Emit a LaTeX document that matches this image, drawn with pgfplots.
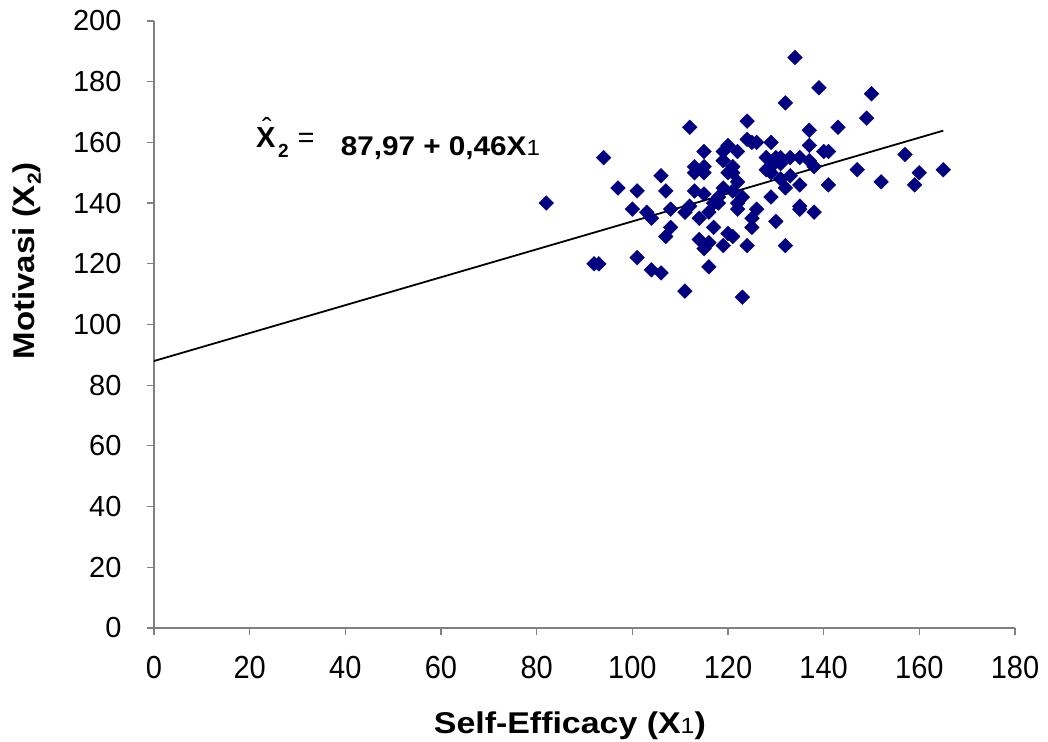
\documentclass[border=0pt]{standalone}
\usepackage{pgfplots}
\pgfplotsset{compat=1.18}
\usepackage{fontspec}
\setmainfont{Liberation Sans}
\definecolor{navy}{HTML}{000080}
\definecolor{axgray}{HTML}{808080}
\begin{document}
\begin{tikzpicture}
\useasboundingbox (0,0) rectangle (1048bp,742bp);
\begin{axis}[
  at={(154bp,114bp)}, anchor=south west,
  scale only axis, width=861bp, height=607bp,
  xmin=0, xmax=180, ymin=0, ymax=200,
  xtick={0,20,...,180}, ytick={0,20,...,200},
  axis lines*=left,
  axis line style={axgray, line width=1.2bp},
  tick style={axgray, line width=1.2bp},
  tick align=outside, major tick length=7bp,
  /pgf/number format/assume math mode=true,
  ticklabel style={font=\fontsize{29bp}{31bp}\selectfont},
  xticklabel style={yscale=1.1, yshift=-16bp},
  yticklabel style={xshift=-22bp},
  clip=false,
]
\addplot[black, line width=1.8bp] coordinates {(0,87.97) (165,163.87)};
\addplot[only marks, mark=square*, mark size=5.2bp, mark options={rotate=45, fill=navy, draw=navy}] coordinates {
(82,140)
(92,120)(93,120)
(94,155)
(97,145)
(100,138)
(101,144)(101,122)
(103,137)(104,135)
(104,118)
(106,117)(106,149)
(107,144)(107,129)
(108,132)(108,138)
(111,111)(111,137)
(112,139)(112,165)
(113,152)(113,144)(113,150)
(114,135)(114,128)
(115,157)(115,152)(115,143)(115,125)(115,150)
(116,127)(116,119)(116,137)
(117,140)(117,132)
(118,140)(118,142)
(119,126)(119,157)(119,154)(119,145)
(120,159)(120,150)(120,130)
(121,129)(121,152)(121,144)(121,150)
(122,157)(122,147)(122,140)(122,138)
(123,109)(123,142)
(124,126)(124,167)(124,161)
(125,135)(125,132)(125,160)
(126,138)(126,160)
(128,151)(128,155)
(129,142)(129,150)(129,160)(129,152)
(130,155)(130,134)
(131,148)(131,155)(131,153)
(132,173)(132,126)(132,145)
(133,149)(133,155)
(134,188)
(135,139)(135,138)(135,146)(135,155)
(137,164)(137,159)(137,154)
(138,152)(138,137)
(139,178)
(140,157)(141,157)(141,146)
(143,165)
(147,151)
(149,168)(150,176)
(152,147)
(157,156)
(159,146)(160,150)
(165,151)
};
% axis labels
\node[anchor=base, inner sep=0pt, font=\fontsize{30bp}{32bp}\selectfont\bfseries]
  at ([yshift=-105bp]rel axis cs:0.483,0)
  {\scalebox{1.13}[1]{Self-Efficacy (X\raisebox{0pt}{\fontsize{22bp}{23bp}\mdseries 1})}};
\node[anchor=base, rotate=90, inner sep=0pt, font=\fontsize{30bp}{32bp}\selectfont\bfseries]
  at ([xshift=-119bp]rel axis cs:0,0.605)
  {\scalebox{1.1}[1]{Motivasi (X\raisebox{-0.2em}{\fontsize{19bp}{20bp}\selectfont 2})}};
% regression equation
\node[anchor=base west, inner sep=0pt, font=\fontsize{29bp}{31bp}\selectfont\bfseries]
  at (axis cs:21.3,158.2) {X};
\node[anchor=base, inner sep=0pt, font=\fontsize{29bp}{31bp}\selectfont]
  at (axis cs:23.6,161.2) {\symbol{"02C6}};
\node[anchor=base west, inner sep=0pt, font=\fontsize{19bp}{20bp}\selectfont\bfseries]
  at (axis cs:25.9,154.9) {2};
\node[anchor=base west, inner sep=0pt, font=\fontsize{29bp}{31bp}\selectfont]
  at (axis cs:30.0,158.2) {=};
\node[anchor=base west, inner sep=0pt, font=\fontsize{27bp}{29bp}\selectfont\bfseries]
  at (axis cs:39.0,155.8) {\scalebox{1.1}[1]{87,97 + 0,46X\raisebox{0pt}{\fontsize{22bp}{23bp}\mdseries 1}}};
\end{axis}
\end{tikzpicture}
\end{document}
